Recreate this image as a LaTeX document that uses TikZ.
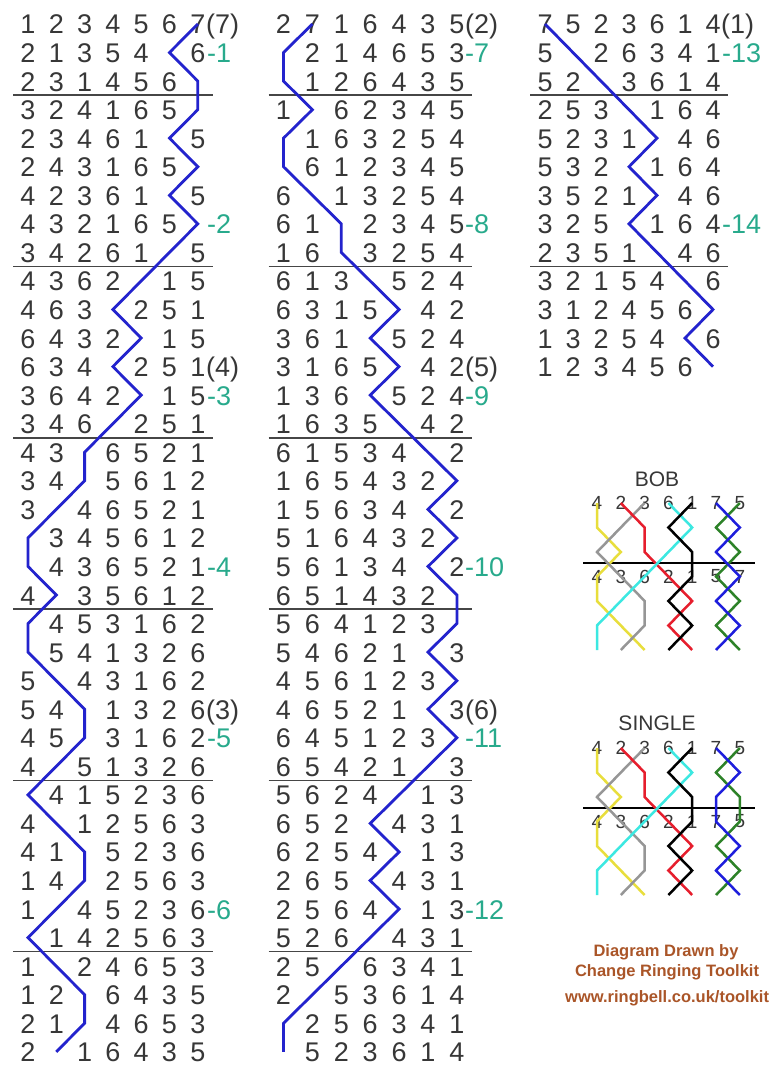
\documentclass[tikz,border=0pt]{standalone}
\usepackage{fontspec}
\setmainfont{Liberation Sans}
\definecolor{dig}{RGB}{55,55,55}
\definecolor{tealc}{RGB}{40,170,140}
\definecolor{bluec}{RGB}{35,35,205}
\definecolor{rulecol}{RGB}{70,70,70}
\definecolor{brn}{RGB}{170,85,40}
\definecolor{yelc}{RGB}{232,222,60}
\definecolor{gryc}{RGB}{150,150,150}
\definecolor{redc}{RGB}{230,30,45}
\definecolor{cync}{RGB}{60,232,225}
\definecolor{grnc}{RGB}{45,130,40}
\definecolor{bl2c}{RGB}{30,30,220}
\tikzset{
  digit/.style={anchor=base,inner sep=0pt,text=dig,font=\fontsize{27}{30}\selectfont},
  plabel/.style={anchor=base west,inner sep=0pt,text=dig,font=\fontsize{27}{30}\selectfont},
  glabel/.style={anchor=base west,inner sep=0pt,text=tealc,font=\fontsize{27}{30}\selectfont},
  rowrule/.style={draw=rulecol,line width=1.6pt},
  bellseven/.style={draw=bluec,line width=2.8pt},
  smalldigit/.style={inner sep=0pt,text=dig,font=\fontsize{19}{21}\selectfont},
  diagtitle/.style={inner sep=0pt,text=dig,font=\fontsize{21}{24}\selectfont},
  smallrule/.style={draw=black,line width=1.5pt},
  lyel/.style={draw=yelc,line width=2.5pt},
  lgry/.style={draw=gryc,line width=2.5pt},
  lred/.style={draw=redc,line width=2.5pt},
  lcyn/.style={draw=cync,line width=2.5pt},
  lblk/.style={draw=black,line width=2.5pt},
  lblu/.style={draw=bl2c,line width=2.5pt},
  lgrn/.style={draw=grnc,line width=2.5pt},
  credit/.style={inner sep=0pt,text=brn,font=\bfseries\fontsize{16.5}{19}\selectfont}
}
\def\rowdy{28.55}
\newcommand\drawcol[7]{%
  \foreach \row [count=\r] in {#4} {%
    \foreach \d [count=\p] in \row {%
      \if x\d\else
        \node[digit,name=d#1-\r-\p] at ({#2+(\p-1)*#3},{34+(\r-1)*\rowdy}) {\d};
      \fi
    }%
  }%
  \foreach \k in {#7} {%
    \draw[rowrule] ({#2-15},{38+(\k-1)*\rowdy}) -- ({#2+6*#3+15},{38+(\k-1)*\rowdy});
  }%
  \draw[bellseven] ({#2+(#5-1)*#3},24) \foreach \p [count=\r from 2] in {#6} { -- ({#2+(\p-1)*#3},{24+(\r-1)*\rowdy}) };
}
\newcommand\bpath[9]{\draw[#1] (#2-#3-0) -- (#2-#4-1) -- (#2-#5-2) -- (#2-#6-3) -- (#2-#7-4) -- (#2-#8-5) -- (#2-#9-6);}
\begin{document}
\begin{tikzpicture}[x=1pt,y=-1pt]
\useasboundingbox (0,0) rectangle (768,1070);
\fill[white] (0,0) rectangle (768,1070);
% column 1
\drawcol{a}{28}{28.3}{
{1,2,3,4,5,6,7},{2,1,3,5,4,x,6},{2,3,1,4,5,6,x},{3,2,4,1,6,5,x},{2,3,4,6,1,x,5},
{2,4,3,1,6,5,x},{4,2,3,6,1,x,5},{4,3,2,1,6,5,x},{3,4,2,6,1,x,5},{4,3,6,2,x,1,5},
{4,6,3,x,2,5,1},{6,4,3,2,x,1,5},{6,3,4,x,2,5,1},{3,6,4,2,x,1,5},{3,4,6,x,2,5,1},
{4,3,x,6,5,2,1},{3,4,x,5,6,1,2},{3,x,4,6,5,2,1},{x,3,4,5,6,1,2},{x,4,3,6,5,2,1},
{4,x,3,5,6,1,2},{x,4,5,3,1,6,2},{x,5,4,1,3,2,6},{5,x,4,3,1,6,2},{5,4,x,1,3,2,6},
{4,5,x,3,1,6,2},{4,x,5,1,3,2,6},{x,4,1,5,2,3,6},{4,x,1,2,5,6,3},{4,1,x,5,2,3,6},
{1,4,x,2,5,6,3},{1,x,4,5,2,3,6},{x,1,4,2,5,6,3},{1,x,2,4,6,5,3},{1,2,x,6,4,3,5},
{2,1,x,4,6,5,3},{2,x,1,6,4,3,5}}
{7}{6,7,7,6,7,6,7,6,5,4,5,4,5,4,3,3,2,1,1,2,1,1,2,3,3,2,1,2,3,3,2,1,2,3,3,2}
{3,9,15,21,27,33}
% column 2
\drawcol{b}{283.5}{28.9}{
{2,7,1,6,4,3,5},{x,2,1,4,6,5,3},{x,1,2,6,4,3,5},{1,x,6,2,3,4,5},{x,1,6,3,2,5,4},
{x,6,1,2,3,4,5},{6,x,1,3,2,5,4},{6,1,x,2,3,4,5},{1,6,x,3,2,5,4},{6,1,3,x,5,2,4},
{6,3,1,5,x,4,2},{3,6,1,x,5,2,4},{3,1,6,5,x,4,2},{1,3,6,x,5,2,4},{1,6,3,5,x,4,2},
{6,1,5,3,4,x,2},{1,6,5,4,3,2,x},{1,5,6,3,4,x,2},{5,1,6,4,3,2,x},{5,6,1,3,4,x,2},
{6,5,1,4,3,2,x},{5,6,4,1,2,3,x},{5,4,6,2,1,x,3},{4,5,6,1,2,3,x},{4,6,5,2,1,x,3},
{6,4,5,1,2,3,x},{6,5,4,2,1,x,3},{5,6,2,4,x,1,3},{6,5,2,x,4,3,1},{6,2,5,4,x,1,3},
{2,6,5,x,4,3,1},{2,5,6,4,x,1,3},{5,2,6,x,4,3,1},{2,5,x,6,3,4,1},{2,x,5,3,6,1,4},
{x,2,5,6,3,4,1},{x,5,2,3,6,1,4}}
{2}{1,1,2,1,1,2,3,3,4,5,4,5,4,5,6,7,6,7,6,7,7,6,7,6,7,6,5,4,5,4,5,4,3,2,1,1}
{3,9,15,21,27,33}
% column 3
\drawcol{c}{545}{28}{
{7,5,2,3,6,1,4},{5,x,2,6,3,4,1},{5,2,x,3,6,1,4},{2,5,3,x,1,6,4},{5,2,3,1,x,4,6},
{5,3,2,x,1,6,4},{3,5,2,1,x,4,6},{3,2,5,x,1,6,4},{2,3,5,1,x,4,6},{3,2,1,5,4,x,6},
{3,1,2,4,5,6,x},{1,3,2,5,4,x,6},{1,2,3,4,5,6,x}}
{1}{2,3,4,5,4,5,4,5,6,7,6,7}
{3,9}
% lead-end labels
\node[plabel] (pa1) at (206,34) {(7)};
\node[plabel] (pa2) at (206,{34+12*\rowdy}) {(4)};
\node[plabel] (pa3) at (206,{34+24*\rowdy}) {(3)};
\node[plabel] (pb1) at (465,34) {(2)};
\node[plabel] (pb2) at (465,{34+12*\rowdy}) {(5)};
\node[plabel] (pb3) at (465,{34+24*\rowdy}) {(6)};
\node[plabel] (pc1) at (721,34) {(1)};
% six numbers
\foreach \n [count=\i] in {1,2,3,4,5,6} {
  \node[glabel,name=ga\i] at (207,{34+(6*\i-5)*\rowdy}) {-\n};
}
\foreach \n [count=\i] in {7,8,9,10,11,12} {
  \node[glabel,name=gb\i] at (465,{34+(6*\i-5)*\rowdy}) {-\n};
}
\node[glabel] (gc1) at (722,{34+1*\rowdy}) {-13};
\node[glabel] (gc2) at (722,{34+7*\rowdy}) {-14};
% small diagrams grid
\foreach \k in {1,...,7} {
  \foreach \j in {0,...,6} {
    \coordinate (B-\k-\j) at ({597+23.8*(\k-1)},{503+24.5*\j});
    \coordinate (S-\k-\j) at ({597+23.8*(\k-1)},{748+24.5*\j});
  }
}
% BOB
\node[diagtitle] (bobtitle) at (657,479) {BOB};
\foreach \d [count=\k] in {4,2,3,6,1,7,5} { \node[smalldigit,name=bt\k] at (B-\k-0) {\d}; }
\foreach \d [count=\k] in {4,3,6,2,1,5,7} { \node[smalldigit,name=bb\k] at (B-\k-3) {\d}; }
\draw[smallrule] (583,563) -- (755,563);
\bpath{lyel}{B}{1}{1}{2}{1}{1}{2}{3}
\bpath{lgry}{B}{3}{2}{1}{2}{3}{3}{2}
\bpath{lred}{B}{2}{3}{3}{4}{5}{4}{5}
\bpath{lcyn}{B}{4}{5}{4}{3}{2}{1}{1}
\bpath{lblk}{B}{5}{4}{5}{5}{4}{5}{4}
\bpath{lgrn}{B}{7}{6}{7}{6}{7}{6}{7}
\bpath{lblu}{B}{6}{7}{6}{7}{6}{7}{6}
% SINGLE
\node[diagtitle] (singletitle) at (657,723) {SINGLE};
\foreach \d [count=\k] in {4,2,3,6,1,7,5} { \node[smalldigit,name=st\k] at (S-\k-0) {\d}; }
\foreach \d [count=\k] in {4,3,6,2,1,7,5} { \node[smalldigit,name=sb\k] at (S-\k-3) {\d}; }
\draw[smallrule] (583,808) -- (755,808);
\bpath{lyel}{S}{1}{1}{2}{1}{1}{2}{3}
\bpath{lgry}{S}{3}{2}{1}{2}{3}{3}{2}
\bpath{lred}{S}{2}{3}{3}{4}{5}{4}{5}
\bpath{lcyn}{S}{4}{5}{4}{3}{2}{1}{1}
\bpath{lblk}{S}{5}{4}{5}{5}{4}{5}{4}
\bpath{lgrn}{S}{7}{6}{7}{7}{6}{7}{6}
\bpath{lblu}{S}{6}{7}{6}{6}{7}{6}{7}
% credits
\node[credit] (cr1) at (666,952) {Diagram Drawn by};
\node[credit] (cr2) at (667,972) {Change Ringing Toolkit};
\node[credit,anchor=west] (cr3) at (565,998) {www.ringbell.co.uk/toolkit};
\end{tikzpicture}
\end{document}
